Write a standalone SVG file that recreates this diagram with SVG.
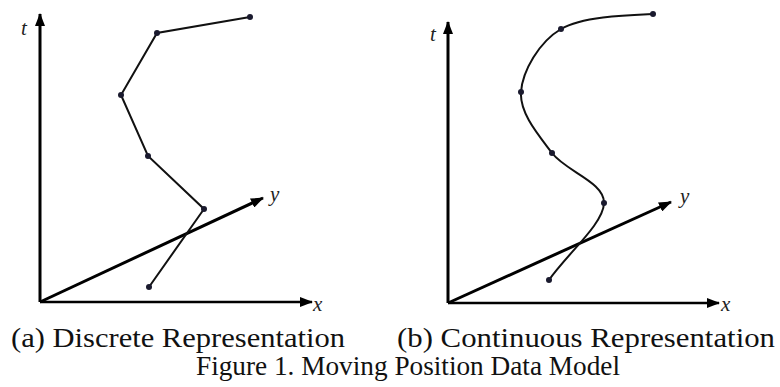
<svg xmlns="http://www.w3.org/2000/svg" width="780" height="387" viewBox="0 0 780 387">
<style>
.axis{stroke:#000;stroke-width:3;fill:none;marker-end:url(#ah)}
.traj{stroke:#111;stroke-width:2;fill:none}
.pt{fill:#1a1a2e}
.lbl{font-family:"Liberation Serif",serif;font-style:italic;font-size:21px;fill:#222}
.cap{font-family:"Liberation Serif",serif;font-size:28px;fill:#111}
</style>
<defs>
<marker id="ah" markerUnits="userSpaceOnUse" markerWidth="14" markerHeight="10" refX="12" refY="5" orient="auto">
<path d="M0,0 L13,5 L0,10 Z" fill="#000"/>
</marker>
</defs>
<rect width="780" height="387" fill="#fff"/>
<g id="panel-a">
<g id="axes-a">
<line class="axis" x1="40" y1="302" x2="40" y2="14"/>
<line class="axis" x1="40" y1="302" x2="312" y2="302" style="stroke-width:2.5"/>
<line class="axis" x1="40" y1="302" x2="263" y2="198"/>
<text class="lbl" x="21" y="35">t</text>
<text class="lbl" x="313" y="311">x</text>
<text class="lbl" x="270" y="201">y</text>
</g>
<g id="trajectory-a">
<polyline class="traj" points="250,17 157,33 121,95 148,156 204,209 149,287"/>
<circle class="pt" cx="250" cy="17" r="3"/>
<circle class="pt" cx="157" cy="33" r="3"/>
<circle class="pt" cx="121" cy="95" r="3"/>
<circle class="pt" cx="148" cy="156" r="3"/>
<circle class="pt" cx="204" cy="209" r="3"/>
<circle class="pt" cx="149" cy="287" r="3"/>
</g>
</g>
<g id="panel-b">
<g id="axes-b">
<line class="axis" x1="448" y1="303" x2="448" y2="22"/>
<line class="axis" x1="448" y1="303" x2="719" y2="303" style="stroke-width:2.5"/>
<line class="axis" x1="448" y1="303" x2="671" y2="202"/>
<text class="lbl" x="430" y="41">t</text>
<text class="lbl" x="721" y="311">x</text>
<text class="lbl" x="680" y="203">y</text>
</g>
<g id="trajectory-b">
<path class="traj" d="M653,14 C630,15 583,16 561,29 C539,42 522.5,71 521,92 C519.5,113 538,134.5 552,153 C566,171.5 604.5,182 604,203 C603.5,224 567,254 549,280"/>
<circle class="pt" cx="653" cy="14" r="3"/>
<circle class="pt" cx="561" cy="29" r="3"/>
<circle class="pt" cx="521" cy="92" r="3"/>
<circle class="pt" cx="552" cy="153" r="3"/>
<circle class="pt" cx="604" cy="203" r="3"/>
<circle class="pt" cx="549" cy="280" r="3"/>
</g>
</g>
<g id="captions">
<text class="cap" x="11" y="347" textLength="334" lengthAdjust="spacingAndGlyphs">(a) Discrete Representation</text>
<text class="cap" x="397" y="347" textLength="378" lengthAdjust="spacingAndGlyphs">(b) Continuous Representation</text>
<text class="cap" x="196" y="375" textLength="424" lengthAdjust="spacingAndGlyphs">Figure 1. Moving Position Data Model</text>
</g>
</svg>
